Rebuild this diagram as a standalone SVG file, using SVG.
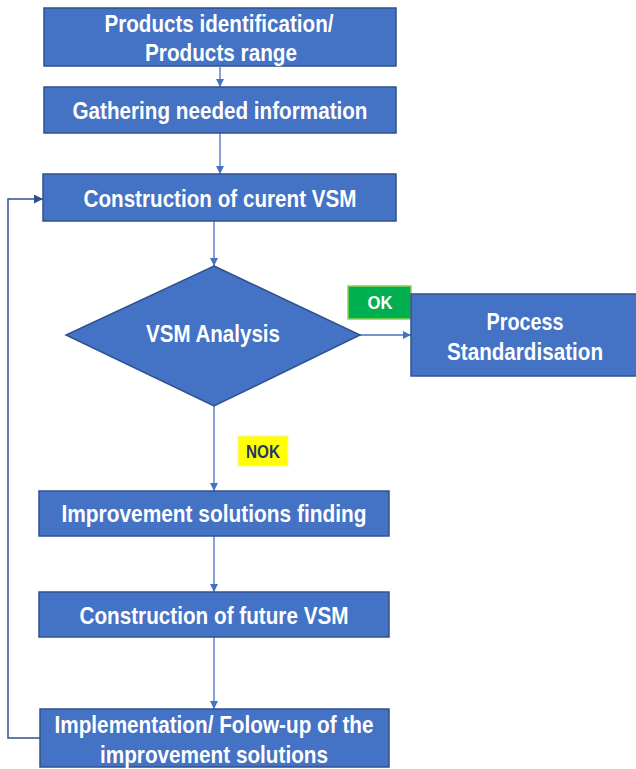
<svg xmlns="http://www.w3.org/2000/svg" width="636" height="769" viewBox="0 0 636 769">
  <style>
    .box { fill: #4472C4; stroke: #2F528F; stroke-width: 1.5; }
    .lbl { font-family: "Liberation Sans Narrow", "Liberation Sans", Arial, sans-serif; font-weight: bold; font-size: 24px; fill: #FFFFFF; text-anchor: middle; }
    .tag { font-family: "Liberation Sans Narrow", "Liberation Sans", Arial, sans-serif; font-weight: bold; font-size: 18px; text-anchor: middle; }
    .conn { fill: none; stroke: #4472C4; stroke-width: 1.3; }
    .loop { fill: none; stroke: #2F528F; stroke-width: 1.5; }
  </style>
  <defs>
    <marker id="arrow" viewBox="0 0 10 10" refX="10" refY="5" markerWidth="8" markerHeight="8" markerUnits="userSpaceOnUse" orient="auto">
      <path d="M0,0 L10,5 L0,10 Z" fill="#4472C4"/>
    </marker>
    <marker id="arrowDark" viewBox="0 0 10 10" refX="10" refY="5" markerWidth="9" markerHeight="9" markerUnits="userSpaceOnUse" orient="auto">
      <path d="M0,0 L10,5 L0,10 Z" fill="#2F528F"/>
    </marker>
  </defs>

  <!-- connectors -->
  <g id="connectors">
    <path class="conn" d="M220,67 V87" marker-end="url(#arrow)"/>
    <path class="conn" d="M220,133 V174" marker-end="url(#arrow)"/>
    <path class="conn" d="M214,221 V266" marker-end="url(#arrow)"/>
    <path class="conn" d="M360,335 H411" marker-end="url(#arrow)"/>
    <path class="conn" d="M214,406 V491" marker-end="url(#arrow)"/>
    <path class="conn" d="M214,536 V592" marker-end="url(#arrow)"/>
    <path class="conn" d="M214,637 V709" marker-end="url(#arrow)"/>
    <path class="loop" d="M40,738 H8 V199 H43" marker-end="url(#arrowDark)"/>
  </g>

  <g id="products">
    <rect class="box" x="44" y="8" width="352" height="58"/>
    <text class="lbl" x="219" y="32" textLength="229" lengthAdjust="spacingAndGlyphs">Products identification/</text>
    <text class="lbl" x="221" y="61" textLength="152" lengthAdjust="spacingAndGlyphs">Products range</text>
  </g>

  <g id="gathering">
    <rect class="box" x="44" y="87" width="352" height="46"/>
    <text class="lbl" x="220" y="119" textLength="295" lengthAdjust="spacingAndGlyphs">Gathering needed information</text>
  </g>

  <g id="current-vsm">
    <rect class="box" x="43" y="174" width="353" height="47"/>
    <text class="lbl" x="220" y="207" textLength="273" lengthAdjust="spacingAndGlyphs">Construction of curent VSM</text>
  </g>

  <g id="analysis">
    <polygon class="box" points="214,266 360,335 214,406 66,335" stroke-width="1"/>
    <text class="lbl" x="213" y="342" textLength="134" lengthAdjust="spacingAndGlyphs">VSM Analysis</text>
  </g>

  <g id="ok-tag">
    <rect x="348" y="286" width="63" height="33" fill="#00B050" stroke="#92D050" stroke-width="1.5"/>
    <text class="tag" x="380" y="309" fill="#FFFFFF" textLength="25" lengthAdjust="spacingAndGlyphs">OK</text>
  </g>

  <g id="standardisation">
    <rect class="box" x="411" y="294" width="226" height="82"/>
    <text class="lbl" x="525" y="330" textLength="77" lengthAdjust="spacingAndGlyphs">Process</text>
    <text class="lbl" x="525" y="360" textLength="156" lengthAdjust="spacingAndGlyphs">Standardisation</text>
  </g>

  <g id="nok-tag">
    <rect x="238" y="436" width="50" height="30" fill="#FFFF00" stroke="#FFF2A0" stroke-width="1"/>
    <text class="tag" x="263" y="458" fill="#203864" textLength="34" lengthAdjust="spacingAndGlyphs">NOK</text>
  </g>

  <g id="improvement">
    <rect class="box" x="39" y="491" width="350" height="45"/>
    <text class="lbl" x="214" y="522" textLength="305" lengthAdjust="spacingAndGlyphs">Improvement solutions finding</text>
  </g>

  <g id="future-vsm">
    <rect class="box" x="39" y="592" width="350" height="45"/>
    <text class="lbl" x="214" y="624" textLength="269" lengthAdjust="spacingAndGlyphs">Construction of future VSM</text>
  </g>

  <g id="implementation">
    <rect class="box" x="40" y="709" width="349" height="58"/>
    <text class="lbl" x="214" y="733" textLength="319" lengthAdjust="spacingAndGlyphs">Implementation/ Folow-up of the</text>
    <text class="lbl" x="214" y="763" textLength="228" lengthAdjust="spacingAndGlyphs">improvement solutions</text>
  </g>
</svg>
